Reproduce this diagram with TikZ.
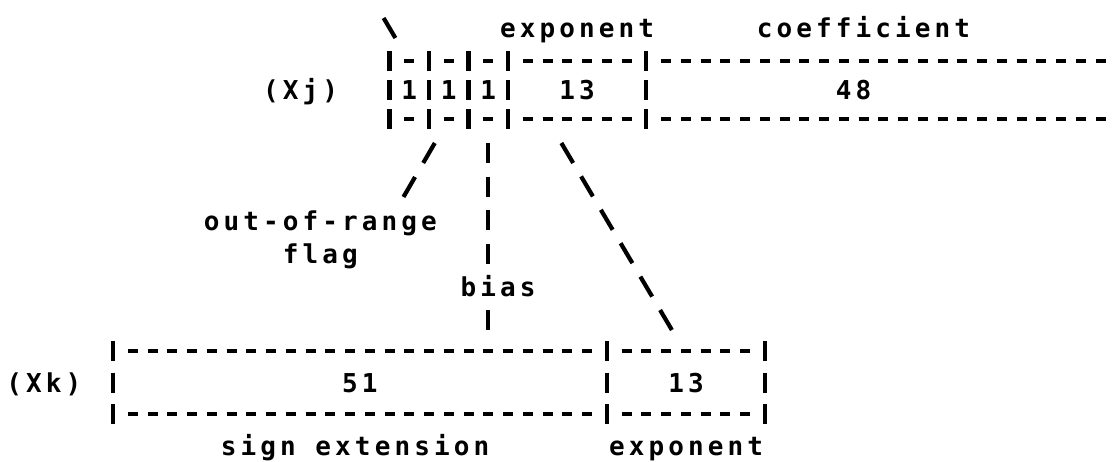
\documentclass[tikz,border=0pt]{standalone}
\usepackage{fontspec}
\newfontfamily\printfont[LetterSpace=15.8]{DejaVu Sans Mono}
\newcommand{\colx}[1]{113+19.75*(#1)}

\begin{document}
\begin{tikzpicture}
[x=1pt,y=-1pt,
  txt/.style={font=\printfont\bfseries\fontsize{26}{26}\selectfont,inner sep=0pt,anchor=base},
  hyph/.style={line width=4.2pt},
  topbar/.style={line width=4.2pt,dash pattern=on 20pt off 9pt},
  lowbar/.style={line width=4.2pt,dash pattern=on 20pt off 11.5pt},
  biasline/.style={line width=4.2pt,dash pattern=on 20pt off 13.67pt},
  flagline/.style={line width=4.2pt,dash pattern=on 23.1pt off 16.2pt},
  expline/.style={line width=4.2pt,dash pattern=on 23.2pt off 15.6pt}]
  \fill[white] (0,0) rectangle (1115,461);
  \useasboundingbox (0,0) rectangle (1115,461);

  % upper word (Xj)
  \foreach \c in {14,16,18,20,27}
    \draw[topbar] ({\colx{\c}},51) -- ({\colx{\c}},129);
  \foreach \y in {61,119} {
    \foreach \c in {15,17,19,21,22,...,26}
      \draw[hyph] ({\colx{\c}-5},\y) -- ({\colx{\c}+5},\y);
    \foreach \c in {28,29,...,50}
      \draw[hyph] ({\colx{\c}-5},\y) -- ({\colx{\c}+5},\y);
  }
  \draw[hyph] ({\colx{14}-5.9},18) -- ({\colx{14}+5.9},38);

  \node[txt] (expo) at ({\colx{23.5}},37) {exponent};
  \node[txt] (coef) at ({\colx{38}},37) {coefficient};
  \node[txt] (xj) at ({\colx{9.5}},99) {(Xj)};
  \node[txt] (b1) at ({\colx{15}},99) {1};
  \node[txt] (b2) at ({\colx{17}},99) {1};
  \node[txt] (b3) at ({\colx{19}},99) {1};
  \node[txt] (e13) at ({\colx{23.5}},99) {13};
  \node[txt] (c48) at ({\colx{37.5}},99) {48};

  % fields pulled out
  \node[txt] (oor) at ({\colx{10.5}},230) {out-of-range};
  \node[txt] (flag) at ({\colx{10.5}},263) {flag};
  \node[txt] (bias) at ({\colx{19.5}},296) {bias};

  \coordinate (flagA) at ({\colx{16}+5.8},143);
  \coordinate (flagB) at ({\colx{15}-5.8},197);
  \coordinate (biasA) at ({\colx{19}},143);
  \coordinate (biasB) at ({\colx{19}},264);
  \coordinate (biasC) at ({\colx{19}},310);
  \coordinate (biasD) at ({\colx{19}},330);
  \coordinate (expA) at ({\colx{23}-5.9},143);
  \coordinate (expB) at ({\colx{28}+5.9},330);

  \draw[flagline] (flagA) -- (flagB);
  \draw[biasline] (biasA) -- (biasB);
  \draw[hyph] (biasC) -- (biasD);
  \draw[expline] (expA) -- (expB);

  % lower word (Xk)
  \foreach \c in {0,25,33}
    \draw[lowbar] ({\colx{\c}},341) -- ({\colx{\c}},424);
  \foreach \y in {351,414} {
    \foreach \c in {1,2,...,24}
      \draw[hyph] ({\colx{\c}-5},\y) -- ({\colx{\c}+5},\y);
    \foreach \c in {26,27,...,32}
      \draw[hyph] ({\colx{\c}-5},\y) -- ({\colx{\c}+5},\y);
  }

  \node[txt] (xk) at ({\colx{-3.5}},392) {(Xk)};
  \node[txt] (s51) at ({\colx{12.5}},392) {51};
  \node[txt] (k13) at (686,392) {13};
  \node[txt] (sgn) at (355,455) {sign extension};
  \node[txt] (kexp) at (686,455) {exponent};
\end{tikzpicture}
\end{document}
